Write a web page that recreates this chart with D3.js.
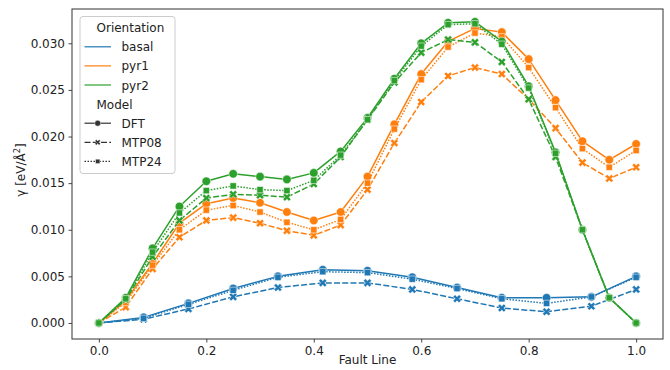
<!DOCTYPE html>
<html>
<head>
<meta charset="utf-8">
<script src="https://cdn.jsdelivr.net/npm/d3@7"></script>
<style>
  html, body { margin: 0; padding: 0; background: #fff; }
  svg { display: block; font-family: "DejaVu Sans", sans-serif; }
</style>
</head>
<body>
<div id="chart"></div>
<script>
// fault line positions
const basalX = [0, 0.0833, 0.1667, 0.25, 0.3333, 0.4167, 0.5, 0.5833, 0.6667, 0.75, 0.8333, 0.9167, 1.0];
const pyrX = [0, 0.05, 0.1, 0.15, 0.2, 0.25, 0.3, 0.35, 0.4, 0.45, 0.5, 0.55, 0.6, 0.65, 0.7, 0.75, 0.8, 0.85, 0.9, 0.95, 1.0];

// gamma values [eV/A^2]
const basalDFT   = [0, 0.0006, 0.0021, 0.0037, 0.0050, 0.0057, 0.0056, 0.0049, 0.0038, 0.0027, 0.0027, 0.0028, 0.0050];
const basalMTP08 = [0, 0.0004, 0.0015, 0.0028, 0.0038, 0.0043, 0.0043, 0.0036, 0.0026, 0.0016, 0.0012, 0.0018, 0.0036];
const basalMTP24 = [0, 0.0005, 0.0020, 0.0035, 0.0049, 0.0055, 0.0054, 0.0047, 0.0037, 0.0026, 0.0021, 0.0028, 0.0049];

const pyr1DFT   = [0, 0.0024, 0.0064, 0.0107, 0.0128, 0.0134, 0.0129, 0.0119, 0.0110, 0.0119, 0.0157, 0.0213, 0.0267, 0.0302, 0.0316, 0.0312, 0.0283, 0.0239, 0.0195, 0.0175, 0.0192];
const pyr1MTP08 = [0, 0.0017, 0.0058, 0.0092, 0.0110, 0.0113, 0.0107, 0.0099, 0.0094, 0.0105, 0.0143, 0.0193, 0.0237, 0.0265, 0.0274, 0.0267, 0.0240, 0.0209, 0.0172, 0.0155, 0.0167];
const pyr1MTP24 = [0, 0.0022, 0.0062, 0.0100, 0.0121, 0.0126, 0.0119, 0.0108, 0.0100, 0.0111, 0.0150, 0.0208, 0.0261, 0.0296, 0.0311, 0.0307, 0.0274, 0.0231, 0.0187, 0.0167, 0.0185];

const pyr2DFT   = [0, 0.0027, 0.0080, 0.0125, 0.0152, 0.0160, 0.0157, 0.0154, 0.0161, 0.0184, 0.0220, 0.0262, 0.0300, 0.0322, 0.0323, 0.0302, 0.0254, 0.0183, 0.0100, 0.0027, 0.0];
const pyr2MTP08 = [0, 0.0025, 0.0071, 0.0110, 0.0134, 0.0138, 0.0137, 0.0135, 0.0149, 0.0178, 0.0218, 0.0258, 0.0290, 0.0304, 0.0301, 0.0280, 0.0240, 0.0178, 0.0100, 0.0027, 0.0];
const pyr2MTP24 = [0, 0.0026, 0.0076, 0.0118, 0.0142, 0.0147, 0.0143, 0.0142, 0.0153, 0.0180, 0.0218, 0.0260, 0.0297, 0.0320, 0.0321, 0.0299, 0.0252, 0.0182, 0.0100, 0.0027, 0.0];

const orientations = ["basal", "pyr1", "pyr2"];
const models = ["DFT", "MTP08", "MTP24"];
const xTicks = [0, 0.2, 0.4, 0.6, 0.8, 1.0];
const yTicks = [0, 0.005, 0.010, 0.015, 0.020, 0.025, 0.030];

const colors = { basal: "#1f77b4", pyr1: "#ff7f0e", pyr2: "#2ca02c" };
const dashes = { DFT: null, MTP08: "6,2.25", MTP24: "1.5,1.5" };

const series = [
  { o: "basal", m: "DFT", x: basalX, y: basalDFT },
  { o: "basal", m: "MTP08", x: basalX, y: basalMTP08 },
  { o: "basal", m: "MTP24", x: basalX, y: basalMTP24 },
  { o: "pyr1", m: "DFT", x: pyrX, y: pyr1DFT },
  { o: "pyr1", m: "MTP08", x: pyrX, y: pyr1MTP08 },
  { o: "pyr1", m: "MTP24", x: pyrX, y: pyr1MTP24 },
  { o: "pyr2", m: "DFT", x: pyrX, y: pyr2DFT },
  { o: "pyr2", m: "MTP08", x: pyrX, y: pyr2MTP08 },
  { o: "pyr2", m: "MTP24", x: pyrX, y: pyr2MTP24 }
];

const W = 670, H = 370;
const plot = { left: 72, right: 663, top: 9, bottom: 339 };

const svg = d3.select("#chart").append("svg")
  .attr("width", W).attr("height", H);

const x = d3.scaleLinear().domain([-0.05, 1.05]).range([plot.left, plot.right]);
const y = d3.scaleLinear().domain([-0.00172, 0.03368]).range([plot.bottom, plot.top]);

// X marker (filled, like matplotlib "X")
function xMarker(s) {
  const k = s / 6;
  const pts = [[-1,-3],[1,-3],[1,-1],[3,-1],[3,1],[1,1],[1,3],[-1,3],[-1,1],[-3,1],[-3,-1],[-1,-1]];
  const c = Math.SQRT1_2;
  return "M" + pts.map(([a, b]) => [(a - b) * c * k, (a + b) * c * k].map(v => v.toFixed(2)).join(",")).join("L") + "Z";
}
function markerPath(m, scale) {
  if (m === "DFT") return d3.symbol(d3.symbolCircle, 58 * scale * scale)();
  if (m === "MTP24") return d3.symbol(d3.symbolSquare, 40 * scale * scale)();
  return xMarker(8.6 * scale);
}

const g = svg.append("g");

const line = d3.line().x(d => x(d[0])).y(d => y(d[1]));

series.forEach(s => {
  const pts = s.x.map((v, i) => [v, s.y[i]]);
  const sg = g.append("g");
  sg.append("path")
    .attr("d", line(pts))
    .attr("fill", "none")
    .attr("stroke", colors[s.o])
    .attr("stroke-width", 1.5)
    .attr("stroke-dasharray", dashes[s.m])
    .attr("stroke-linejoin", "round");
  sg.selectAll("path.mk")
    .data(pts)
    .enter().append("path")
    .attr("class", "mk")
    .attr("d", markerPath(s.m, 1))
    .attr("transform", d => `translate(${x(d[0])},${y(d[1])})`)
    .attr("fill", colors[s.o])
    .attr("stroke", "#fff")
    .attr("stroke-opacity", 0.7)
    .attr("stroke-width", 0.75);
});

// axes
const xAxis = svg.append("g")
  .attr("transform", `translate(0,${plot.bottom})`)
  .call(d3.axisBottom(x).tickValues(xTicks).tickFormat(d3.format(".1f")).tickSize(3.5).tickPadding(3.5).tickSizeOuter(0));
const yAxis = svg.append("g")
  .attr("transform", `translate(${plot.left},0)`)
  .call(d3.axisLeft(y).tickValues(yTicks).tickFormat(d3.format(".3f")).tickSize(3.5).tickPadding(3.5).tickSizeOuter(0));

[xAxis, yAxis].forEach(a => {
  a.select(".domain").remove();
  a.selectAll("line").attr("stroke", "#333").attr("stroke-width", 0.9);
  a.selectAll("text").attr("font-size", 12).attr("fill", "#222")
    .attr("font-family", "DejaVu Sans, sans-serif");
});

// frame
svg.append("rect")
  .attr("x", plot.left).attr("y", plot.top)
  .attr("width", plot.right - plot.left).attr("height", plot.bottom - plot.top)
  .attr("fill", "none").attr("stroke", "#333").attr("stroke-width", 1);

// axis labels
svg.append("text")
  .attr("x", (plot.left + plot.right) / 2).attr("y", 364)
  .attr("text-anchor", "middle").attr("font-size", 12).attr("fill", "#222")
  .text("Fault Line");

const yl = svg.append("text")
  .attr("transform", `translate(25,${(plot.top + plot.bottom) / 2 - 4}) rotate(-90)`)
  .attr("text-anchor", "middle").attr("font-size", 12).attr("fill", "#222");
yl.append("tspan").text("γ [eV/Å");
yl.append("tspan").attr("font-size", 8.5).attr("dy", -5).text("2");
yl.append("tspan").attr("dy", 5).text("]");

// legend
const lg = svg.append("g");
lg.append("rect")
  .attr("x", 80).attr("y", 16.5).attr("width", 95).attr("height", 157).attr("rx", 3)
  .attr("fill", "#fff").attr("fill-opacity", 0.8)
  .attr("stroke", "#ccc").attr("stroke-width", 1);

const rows = [
  { label: "Orientation", title: true },
  ...orientations.map(o => ({ label: o, color: colors[o] })),
  { label: "Model", title: true },
  ...models.map(m => ({ label: m, model: m }))
];

rows.forEach((r, i) => {
  const cy = 27.7 + i * 19.1;
  if (r.title) {
    lg.append("text").attr("x", 96.5).attr("y", cy + 4.5)
      .attr("font-size", 12).attr("fill", "#222").text(r.label);
    return;
  }
  const col = r.color || "#333";
  lg.append("line")
    .attr("x1", 84.5).attr("x2", 111).attr("y1", cy).attr("y2", cy)
    .attr("stroke", col).attr("stroke-width", 1.2)
    .attr("stroke-dasharray", r.model ? dashes[r.model] : null);
  if (r.model) {
    lg.append("path")
      .attr("d", markerPath(r.model, 0.7))
      .attr("transform", `translate(97.7,${cy})`)
      .attr("fill", col).attr("stroke", "#fff").attr("stroke-width", 0.5);
  }
  lg.append("text").attr("x", 121.5).attr("y", cy + 4.5)
    .attr("font-size", 12).attr("fill", "#222").text(r.label);
});
</script>
</body>
</html>
